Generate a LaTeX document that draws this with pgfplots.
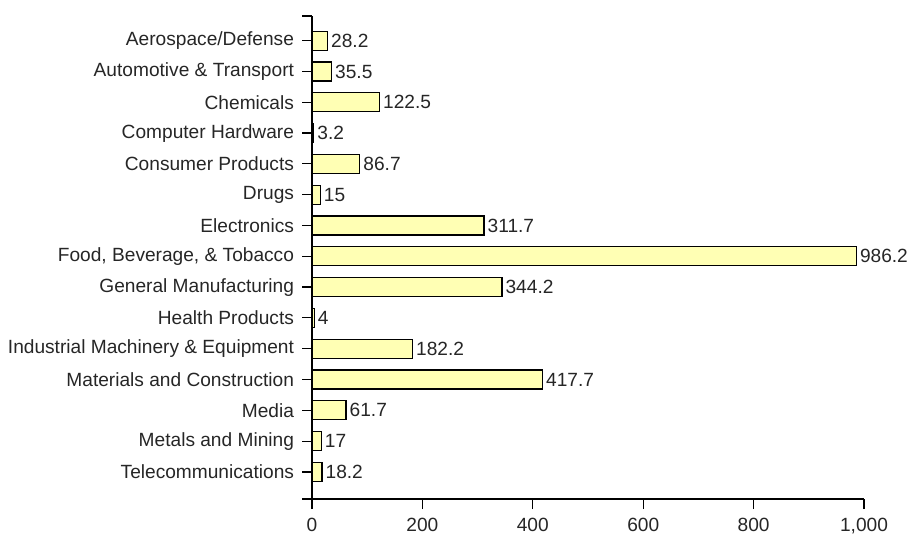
\documentclass[border=0pt]{standalone}
\usepackage{pgfplots}
\pgfplotsset{compat=1.18}
\usepackage{fontspec}
\setmainfont{Liberation Sans}
\definecolor{barfill}{HTML}{FFFFB4}
\begin{document}
\begin{tikzpicture}[x=1bp,y=1bp]
\useasboundingbox (0,0) rectangle (455,266.5);
\begin{axis}[
  at={(156bp,17bp)}, anchor=south west,
  scale only axis,
  width=276bp, height=241.5bp,
  xbar, bar width=9.5bp,
  y dir=reverse,
  xmin=0, xmax=1000,
  ymin=-0.8, ymax=14.88,
  axis x line*=bottom, axis y line*=left,
  axis line style={line width=0.6bp, black, -},
  xtick={0,200,400,600,800,1000},
  ytick={-0.8,0,1,2,3,4,5,6,7,8,9,10,11,12,13,14,14.88},
  yticklabels={,Aerospace/Defense,Automotive \& Transport,Chemicals,Computer Hardware,Consumer Products,Drugs,Electronics,{Food, Beverage, \& Tobacco},General Manufacturing,Health Products,Industrial Machinery \& Equipment,Materials and Construction,Media,Metals and Mining,Telecommunications,},
  tick align=outside,
  major tick length=5bp,
  tick style={line width=0.6bp, black},
  xtick pos=bottom, ytick pos=left,
  x tick label style={yshift=-1.2bp},
  y tick label style={xshift=-0.5bp},
  tick label style={font=\fontsize{9.6}{11}\selectfont, text=black!85},
  /pgf/number format/assume math mode=true,
  /pgf/number format/1000 sep={,},
  nodes near coords,
  nodes near coords style={font=\fontsize{9.6}{11}\selectfont, text=black!85, anchor=west, inner sep=1.5bp},
  clip=false,
]
\addplot[draw=black, line width=0.6bp, fill=barfill] coordinates {
 (28.2,0) (35.5,1) (122.5,2) (3.2,3) (86.7,4) (15,5) (311.7,6) (986.2,7)
 (344.2,8) (4,9) (182.2,10) (417.7,11) (61.7,12) (17,13) (18.2,14)
};
\end{axis}
\end{tikzpicture}
\end{document}
